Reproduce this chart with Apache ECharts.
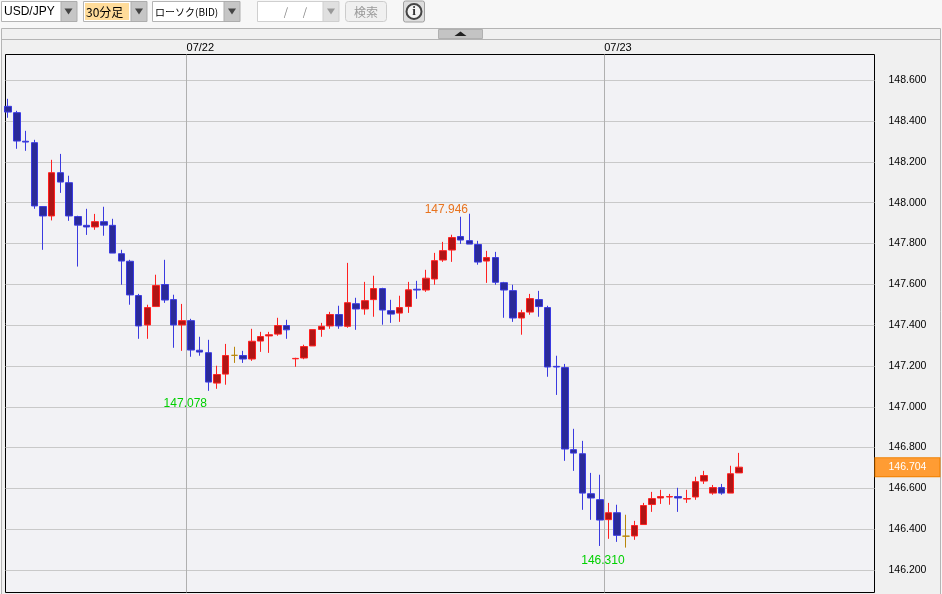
<!DOCTYPE html>
<html><head><meta charset="utf-8">
<style>html,body{margin:0;padding:0;background:#f7f7f7}#c{width:942px;height:594px}</style>
<script src="https://cdn.jsdelivr.net/npm/echarts@6/dist/echarts.min.js"></script>
</head><body><div id="c"></div>
<script>
const opens=[148.472,148.441,148.301,148.294,147.981,147.935,148.147,148.098,147.932,147.889,147.881,147.907,147.889,147.750,147.713,147.545,147.401,147.491,147.599,147.525,147.401,147.422,147.277,147.265,147.116,147.160,147.252,147.251,147.234,147.322,147.347,147.356,147.398,147.235,147.239,147.298,147.379,147.396,147.452,147.394,147.505,147.479,147.525,147.579,147.471,147.459,147.491,147.576,147.572,147.626,147.719,147.768,147.834,147.814,147.795,147.714,147.731,147.608,147.569,147.435,147.464,147.525,147.486,147.198,147.192,146.790,146.770,146.574,146.545,146.447,146.481,146.366,146.367,146.423,146.521,146.553,146.558,146.560,146.548,146.558,146.636,146.577,146.604,146.577,146.676];
const closes=[148.444,148.302,148.297,147.984,147.935,148.147,148.101,147.935,147.890,147.881,147.907,147.890,147.753,147.714,147.548,147.396,147.486,147.594,147.523,147.401,147.422,147.278,147.268,147.121,147.158,147.251,147.252,147.234,147.321,147.344,147.353,147.398,147.377,147.237,147.295,147.378,147.394,147.452,147.396,147.510,147.479,147.520,147.579,147.474,147.454,147.486,147.573,147.572,147.630,147.716,147.765,147.829,147.817,147.797,147.709,147.731,147.610,147.572,147.435,147.461,147.530,147.491,147.195,147.195,146.793,146.773,146.577,146.553,146.445,146.481,146.370,146.366,146.418,146.516,146.550,146.560,146.560,146.553,146.550,146.633,146.663,146.604,146.577,146.672,146.704];
const lows=[148.416,148.264,148.254,147.970,147.769,147.913,148.048,147.911,147.687,147.842,147.867,147.838,147.753,147.598,147.500,147.333,147.333,147.491,147.509,147.289,147.274,147.245,147.250,147.078,147.088,147.108,147.215,147.215,147.225,147.269,147.264,147.348,147.333,147.196,147.233,147.298,147.343,147.382,147.382,147.387,147.377,147.451,147.441,147.402,147.411,147.416,147.460,147.529,147.563,147.598,147.710,147.710,147.798,147.797,147.696,147.607,147.598,147.436,147.416,147.353,147.451,147.441,147.147,147.058,146.735,146.686,146.495,146.446,146.318,146.353,146.338,146.310,146.348,146.423,146.485,146.524,146.520,146.485,146.529,146.544,146.622,146.569,146.569,146.577,146.676];
const highs=[148.509,148.450,148.352,148.308,147.983,148.210,148.239,148.132,147.936,147.970,147.945,147.980,147.921,147.769,147.720,147.553,147.500,147.647,147.720,147.549,147.504,147.431,147.343,147.328,147.201,147.308,147.294,147.274,147.382,147.367,147.367,147.436,147.426,147.240,147.304,147.378,147.411,147.465,147.495,147.705,147.534,147.612,147.642,147.583,147.524,147.544,147.612,147.617,147.671,147.754,147.808,147.843,147.931,147.946,147.813,147.764,147.759,147.612,147.598,147.475,147.553,147.568,147.495,147.250,147.210,146.892,146.833,146.676,146.667,146.529,146.520,146.471,146.441,146.529,146.583,146.593,146.573,146.603,146.593,146.657,146.686,146.617,146.622,146.711,146.774];
const dayLines=[[20.5,'07/22'],[68.5,'07/23']];
const extremes=[[23,147.078,'#00d000',13],[53,147.946,'#e8731e',-4],[71,146.310,'#00d000',13]];
const lastPrice=146.704;
const toolbar={pair:'USD/JPY',period:'30分足',rate:'ローソク(BID)',search:'検索'};

const UI='"Noto Sans CJK JP","Liberation Sans",sans-serif';
const NUM='"Liberation Sans",sans-serif';
const rect=(x,y,w,h,fill,stroke,r)=>({type:'rect',silent:true,z:-5,shape:{x,y,width:w,height:h,r:r||0},style:{fill,stroke:stroke||null,lineWidth:1}});
const tri=(x,y,up,fill)=>({type:'polygon',silent:true,z:-3,shape:{points:up?[[x-6,y+2],[x+6,y+2],[x,y-2.5]]:[[x-4,y-3],[x+4,y-3],[x,y+3]]},style:{fill}});
const txt=(x,y,t,fill,size,align,font,weight)=>({type:'text',silent:true,z:-2,x,y,style:{text:t,fill,font:(weight||'normal')+' '+size+'px '+(font||UI),align:align||'left',verticalAlign:'middle'}});
const btn=(x,col)=>rect(x,1.5,16,20,col||'#c6c6c6',col?'#cfcfcf':'#adadad');
const graphic=[
 rect(0,0,942,28,'#f7f7f7'),
 rect(1.5,28.5,939,600,'#f0f0f0','#b4b4b4'),
 {type:'line',silent:true,z:-4,shape:{x1:1,y1:39.5,x2:941,y2:39.5},style:{stroke:'#b4b4b4',lineWidth:1}},
 rect(438.5,29.5,44,9,'#c4c4c4','#b0b0b0'),tri(460.5,34,true,'#222'),
 rect(1.5,1.5,75,20,'#fff','#b4b4b4'),btn(61),tri(68.5,11.5,false,'#444'),txt(4,12,toolbar.pair,'#000',12,'left','"Liberation Sans"'),
 rect(83.5,1.5,63,20,'#fff','#b4b4b4'),rect(85,3,44,17,'#ffdc9a'),btn(131),tri(139,11.5,false,'#444'),txt(86,12,toolbar.period,'#000',12),
 rect(152.5,1.5,87,20,'#fff','#b4b4b4'),btn(224),tri(232,11.5,false,'#444'),txt(155,12,toolbar.rate,'#000',10),
 rect(257.5,1.5,81,20,'#fff','#cfcfcf'),btn(323,'#e0e0e0'),tri(331,11.5,false,'#999'),txt(286,11.5,'/','#888',11,'center'),txt(305,11.5,'/','#888',11,'center'),
 rect(345.5,1.5,41,20,'#f0f0f0','#cccccc',3),txt(366,12,toolbar.search,'#999',12,'center'),
 rect(403.5,1,21,21,'#dedede','#a0a0a0',2),
 {type:'circle',silent:true,z:-3,shape:{cx:414,cy:11.5,r:7.5},style:{fill:'#f4f4f4',stroke:'#444',lineWidth:2}},
 txt(414,12,'i','#333',13,'center','"Liberation Serif"','bold'),
];
const UPB='#ff2020',UPF='#b01515',DNB='#3a3ae0',DNF='#2a2a99',DOJI='#b8860b';
const candles=opens.map((o,i)=>{
  const d=closes[i]===o;
  const item={value:[i,o,closes[i],lows[i],highs[i]]};
  if(d) item.itemStyle={color:DOJI,color0:DOJI,borderColor:DOJI,borderColor0:DOJI};
  return item;
});
const chart=echarts.init(document.getElementById('c'),null,{renderer:'canvas'});
chart.setOption({
 animation:false,backgroundColor:'#f7f7f7',graphic:{elements:graphic},
 grid:{left:5.5,top:54.5,width:869,height:538,show:true,backgroundColor:'#f2f2f5',borderColor:'#000',borderWidth:1,containLabel:false},
 xAxis:{type:'value',min:-0.31,max:99.57,show:false},
 yAxis:{type:'value',position:'right',min:146.09,max:148.726,splitNumber:13,minInterval:0.2,maxInterval:0.2,scale:true,
   axisLine:{show:false},axisTick:{show:false},
   splitLine:{show:true,showMinLine:false,showMaxLine:false,lineStyle:{color:'#c9c9c9',width:1}},
   axisLabel:{show:true,margin:14,color:'#000',fontSize:10.5,fontFamily:NUM,padding:[2,0,0,0],showMinLabel:false,showMaxLabel:false,formatter:v=>v.toFixed(3)}},
 series:[{type:'candlestick',data:candles,barWidth:7,encode:{x:0,y:[1,2,3,4]},
   itemStyle:{color:UPF,color0:DNF,borderColor:UPB,borderColor0:DNB,borderWidth:1},
   markLine:{silent:true,symbol:'none',precision:3,animation:false,
     data:dayLines.map(d=>({xAxis:d[0],name:d[1],lineStyle:{color:'#b0b0b0',width:1,type:'solid'},
        label:{show:true,position:'end',formatter:d[1],color:'#000',fontSize:11,fontFamily:NUM,align:'left',distance:1}}))
      .concat([{yAxis:lastPrice,lineStyle:{color:'transparent',width:1,type:'solid'},
        label:{show:true,position:'end',formatter:lastPrice.toFixed(3),color:'#fff',fontSize:10.5,fontFamily:NUM,backgroundColor:'#ff9c33',borderColor:'#f08000',borderWidth:1,align:'left',padding:[4,13,3,13],distance:1}}])},
   markPoint:{silent:true,symbol:'circle',symbolSize:0,animation:false,
     data:extremes.map(e=>({coord:[e[0],e[1]],label:{show:true,position:'inside',offset:[-23,e[3]],formatter:e[1].toFixed(3),color:e[2],fontSize:12,fontFamily:'"Liberation Sans"'}}))}
 }]
});
</script></body></html>
